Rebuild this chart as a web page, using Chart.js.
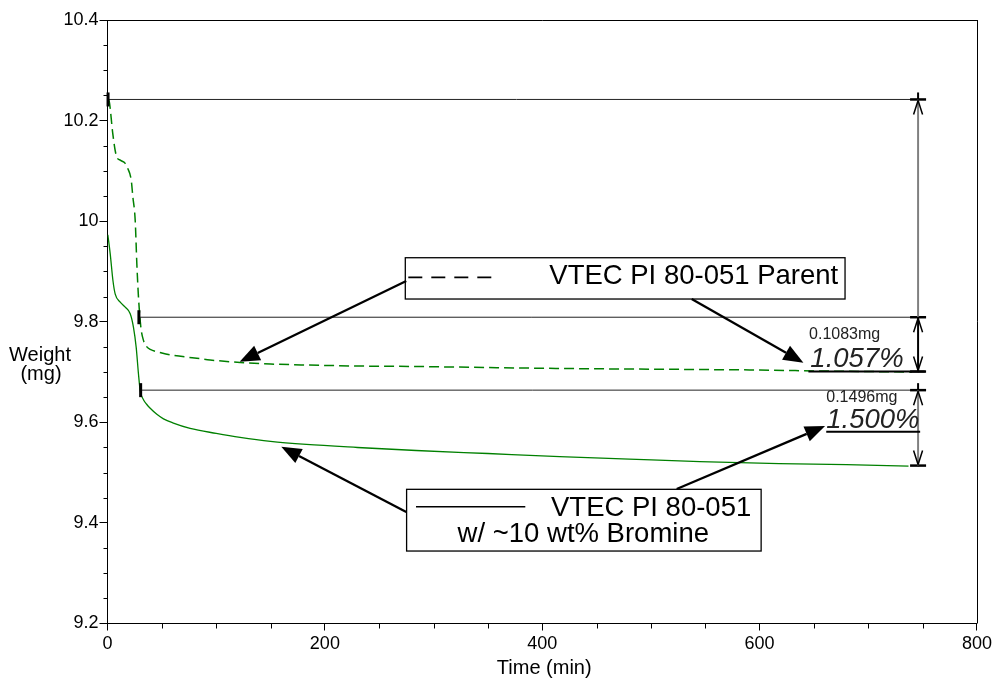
<!DOCTYPE html>
<html><head><meta charset="utf-8">
<script src="https://cdn.jsdelivr.net/npm/chart.js@4.4.1/dist/chart.umd.min.js"></script>
<style>html,body{margin:0;padding:0;background:#fff;overflow:hidden}#wrap{width:995px;height:679px;position:relative}</style>
</head><body><div id="wrap"><canvas id="c" width="995" height="679"></canvas></div>
<script>
// ---- data ----
const parentTime   = [0.5, 1.6, 4.8, 7.1, 8.6, 12, 16.3, 18.6, 21.8, 23.3, 25.5, 27.0, 28.5, 30.7, 33.1, 36.2, 39.3, 50, 60.7, 80, 94.4, 122, 150, 183, 230, 284, 350, 420, 480, 545, 600, 660, 700, 740];
const parentWeight = [10.242, 10.238, 10.175, 10.140, 10.127, 10.121, 10.115, 10.105, 10.082, 10.049, 10.001, 9.915, 9.849, 9.789, 9.763, 9.750, 9.745, 9.738, 9.733, 9.728, 9.724, 9.719, 9.716, 9.714, 9.712, 9.711, 9.709, 9.707, 9.706, 9.705, 9.704, 9.702, 9.701, 9.700];
const bromineTime   = [0.3, 2.5, 5.0, 7.1, 11.7, 16.3, 20.9, 23.9, 26.4, 28.5, 30.1, 33.1, 36.0, 39.3, 45.4, 51.5, 60, 76, 100, 122, 150, 183, 230, 284, 350, 416, 480, 545, 618, 680, 737];
const bromineWeight = [9.973, 9.935, 9.882, 9.855, 9.839, 9.829, 9.816, 9.789, 9.749, 9.696, 9.663, 9.645, 9.636, 9.628, 9.616, 9.607, 9.599, 9.588, 9.578, 9.570, 9.562, 9.556, 9.550, 9.544, 9.538, 9.532, 9.527, 9.522, 9.518, 9.516, 9.513];

const xTickValues = [0, 200, 400, 600, 800];
const xTickLabels = ['0', '200', '400', '600', '800'];
const yTickValues = [9.2, 9.4, 9.6, 9.8, 10.0, 10.2, 10.4];
const yTickLabels = ['9.2', '9.4', '9.6', '9.8', '10', '10.2', '10.4'];
const seriesNames = ['VTEC PI 80-051 Parent', 'VTEC PI 80-051', 'w/ ~10 wt% Bromine'];
const axisTitles = ['Time (min)', 'Weight', '(mg)'];

// step-analysis levels (mg) and labels
const parentLevels  = [10.242, 9.809, 9.701];
const bromineLevels = [9.664, 9.514];
const lossMg  = ['0.1083mg', '0.1496mg'];
const lossPct = ['1.057%', '1.500%'];

const FONT = "'Liberation Sans', Arial, sans-serif";

const annot = {
  id: 'annot',
  afterDraw(chart) {
    const { ctx, chartArea: a, scales: { x, y } } = chart;
    const X = v => x.getPixelForValue(v), Y = v => y.getPixelForValue(v);
    const line = (x1, y1, x2, y2, w, c) => {
      ctx.beginPath(); ctx.lineWidth = w || 1; ctx.strokeStyle = c || '#000';
      ctx.moveTo(x1, y1); ctx.lineTo(x2, y2); ctx.stroke();
    };
    ctx.save();
    // frame top/right
    line(a.left, Math.round(a.top) + 0.5, a.right, Math.round(a.top) + 0.5, 1);
    line(Math.round(a.right) + 0.5, a.top, Math.round(a.right) + 0.5, a.bottom, 1);
    // minor ticks
    for (let v = 50; v < 800; v += 50) {
      if (v % 200 === 0) continue;
      const px = Math.round(X(v)) + 0.5;
      line(px, a.bottom, px, a.bottom + 5, 1);
    }
    for (let k = 1; k < 24; k++) {
      if (k % 4 === 0) continue;
      const py = Math.round(Y(9.2 + k * 0.05)) + 0.5;
      line(a.left - 4, py, a.left, py, 1);
    }
    // axis titles
    ctx.fillStyle = '#000';
    ctx.font = '20px ' + FONT; ctx.textAlign = 'center'; ctx.textBaseline = 'middle';
    ctx.fillText(axisTitles[0], (a.left + a.right) / 2 + 2, 668);
    ctx.fillText(axisTitles[1], 40, 355);
    ctx.fillText(axisTitles[2], 41, 374);

    // reference lines
    const dimX = X(745.8);
    const endX = X(752);
    const startTick = (t, lv) => line(X(t), Y(lv) - 7, X(t), Y(lv) + 7, 3);
    line(X(0.5), Y(parentLevels[0]), endX, Y(parentLevels[0]), 1, '#222');
    startTick(0.5, parentLevels[0]);
    line(X(28.9), Y(parentLevels[1]), endX, Y(parentLevels[1]), 1, '#222');
    startTick(28.9, parentLevels[1]);
    line(X(644.9), Y(parentLevels[2]), endX, Y(parentLevels[2]), 2, '#000');
    line(X(30.5), Y(bromineLevels[0]), endX, Y(bromineLevels[0]), 1, '#222');
    startTick(30.5, bromineLevels[0]);
    // crosses
    [parentLevels[0], parentLevels[1], parentLevels[2], bromineLevels[0], bromineLevels[1]].forEach(lv => {
      line(dimX - 8, Y(lv), dimX + 8, Y(lv), 2.5);
    });
    line(dimX, Y(parentLevels[0]) - 7, dimX, Y(parentLevels[0]) + 2, 2);
    line(dimX, Y(bromineLevels[0]) - 7, dimX, Y(bromineLevels[0]) + 2, 2);
    // dimension lines
    const openHead = (px, py, dir) => {
      ctx.beginPath(); ctx.lineWidth = 1.5; ctx.strokeStyle = '#000';
      ctx.moveTo(px - 4.5, py + dir * 15); ctx.lineTo(px, py + dir * 1); ctx.lineTo(px + 4.5, py + dir * 15); ctx.stroke();
    };
    line(dimX, Y(parentLevels[0]), dimX, Y(parentLevels[1]), 2, '#808080');
    openHead(dimX, Y(parentLevels[0]), 1);
    line(dimX, Y(parentLevels[1]), dimX, Y(parentLevels[2]), 2, '#000');
    openHead(dimX, Y(parentLevels[1]), 1);
    openHead(dimX, Y(parentLevels[2]), -1);
    line(dimX, Y(bromineLevels[0]), dimX, Y(bromineLevels[1]), 2, '#808080');
    openHead(dimX, Y(bromineLevels[0]), 1);
    openHead(dimX, Y(bromineLevels[1]), -1);
    // texts
    ctx.textAlign = 'left'; ctx.textBaseline = 'alphabetic'; ctx.fillStyle = '#222';
    ctx.font = '16px ' + FONT;
    ctx.fillText(lossMg[0], X(645.5), Y(9.7657));
    ctx.fillText(lossMg[1], X(661.3), Y(9.641));
    ctx.font = 'italic 27.5px ' + FONT;
    ctx.fillText(lossPct[0], X(646.7), Y(9.7106));
    ctx.fillText(lossPct[1], X(661.3), Y(9.5887));
    line(X(661.3), Y(9.5814), X(747.7), Y(9.5814), 2);

    // legend boxes
    const box = (t1, w1, t2, w2) => {
      const l = X(t1), r = X(t2), tp = Y(w1), bt = Y(w2);
      ctx.fillStyle = '#fff'; ctx.fillRect(l, tp, r - l, bt - tp);
      ctx.lineWidth = 1.3; ctx.strokeStyle = '#000'; ctx.strokeRect(l, tp, r - l, bt - tp);
      return { l, tp };
    };
    ctx.setLineDash([]);
    const b1 = box(274.0, 9.9273, 678.6, 9.8452);
    ctx.setLineDash([14, 9]);
    line(b1.l + 3, b1.tp + 19.6, b1.l + 88, b1.tp + 19.6, 1.6);
    ctx.setLineDash([]);
    ctx.fillStyle = '#000'; ctx.font = '27.5px ' + FONT; ctx.textAlign = 'left';
    ctx.fillText(seriesNames[0], b1.l + 144, b1.tp + 26.6);
    const b2 = box(275.2, 9.4668, 601.4, 9.3441);
    line(b2.l + 9.4, b2.tp + 17.4, b2.l + 118.7, b2.tp + 17.4, 1.6);
    ctx.fillStyle = '#000';
    ctx.fillText(seriesNames[1], b2.l + 144.4, b2.tp + 26.7);
    ctx.textAlign = 'center';
    ctx.fillText(seriesNames[2], b2.l + 176.7, b2.tp + 53);

    // pointer arrows (filled heads)
    const arrow = (t1, w1, t2, w2) => {
      const x1 = X(t1), y1 = Y(w1), x2 = X(t2), y2 = Y(w2);
      const ang = Math.atan2(y2 - y1, x2 - x1), L = 20, H = 8;
      const bx = x2 - L * Math.cos(ang), by = y2 - L * Math.sin(ang);
      line(x1, y1, bx, by, 2.3);
      ctx.beginPath(); ctx.fillStyle = '#000';
      ctx.moveTo(x2, y2);
      ctx.lineTo(bx + H * Math.sin(ang), by - H * Math.cos(ang));
      ctx.lineTo(bx - H * Math.sin(ang), by + H * Math.cos(ang));
      ctx.closePath(); ctx.fill();
    };
    arrow(274.9, 9.881, 121.6, 9.7205);
    arrow(537.5, 9.8452, 640.3, 9.7186);
    arrow(274.9, 9.4217, 159.9, 9.5515);
    arrow(523.7, 9.4674, 660.2, 9.5927);
    ctx.restore();
  }
};

new Chart(document.getElementById('c'), {
  type: 'line',
  data: {
    datasets: [
      { label: seriesNames[0], data: parentTime.map((t, i) => ({ x: t, y: parentWeight[i] })),
        borderColor: '#008000', borderWidth: 1.5, borderDash: [10, 5], pointRadius: 0, fill: false, cubicInterpolationMode: 'monotone' },
      { label: seriesNames[1] + ' ' + seriesNames[2], data: bromineTime.map((t, i) => ({ x: t, y: bromineWeight[i] })),
        borderColor: '#008000', borderWidth: 1.3, pointRadius: 0, fill: false, cubicInterpolationMode: 'monotone' }
    ]
  },
  options: {
    responsive: false, animation: false, devicePixelRatio: 1,
    layout: { padding: { left: 0, top: 20, right: 16, bottom: 0 } },
    plugins: { legend: { display: false }, tooltip: { enabled: false } },
    scales: {
      x: {
        type: 'linear', min: 0, max: 800,
        afterFit: s => { s.height = 55.5; },
        afterBuildTicks: s => { s.ticks = xTickValues.map(v => ({ value: v })); },
        ticks: { callback: (v, i) => xTickLabels[i], color: '#000', font: { size: 18, family: FONT }, padding: 3, maxRotation: 0, autoSkip: false },
        grid: { drawOnChartArea: false, tickLength: 7, color: '#000', lineWidth: 1 },
        border: { color: '#000', width: 1 }
      },
      y: {
        type: 'linear', min: 9.2, max: 10.4,
        afterFit: s => { s.width = 107.5; },
        afterBuildTicks: s => { s.ticks = yTickValues.map(v => ({ value: v })); },
        ticks: { callback: (v, i) => yTickLabels[i], color: '#000', font: { size: 18, family: FONT }, padding: 1, autoSkip: false },
        grid: { drawOnChartArea: false, tickLength: 8, color: '#000', lineWidth: 1 },
        border: { color: '#000', width: 1 }
      }
    }
  },
  plugins: [annot]
});
</script>
</body></html>
